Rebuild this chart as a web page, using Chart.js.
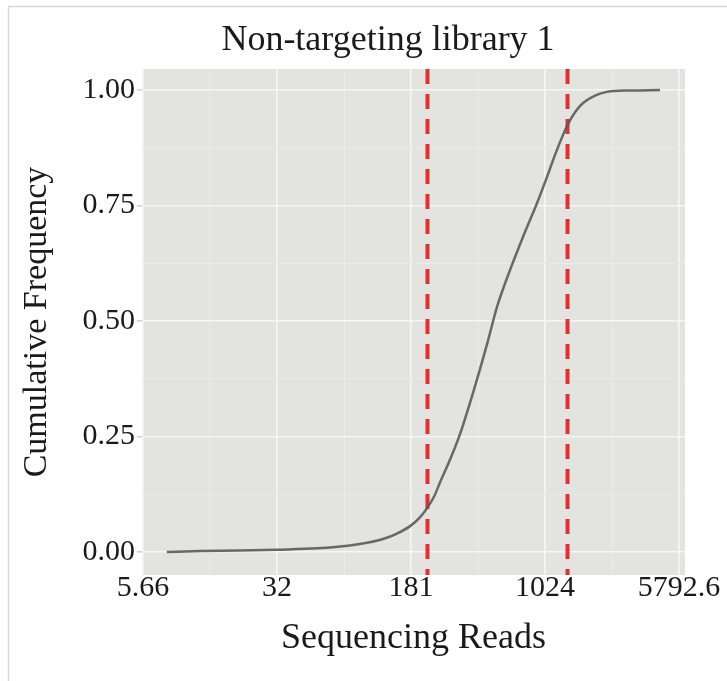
<!DOCTYPE html>
<html>
<head>
<meta charset="utf-8">
<title>Non-targeting library 1</title>
<script src="https://cdn.jsdelivr.net/npm/chart.js@4.4.0/dist/chart.umd.min.js"></script>
<style>
  body { margin: 0; background: #ffffff; }
</style>
</head>
<body>
<canvas id="canvasCdf" width="727" height="681"></canvas>
<script>
var chartTitle = 'Non-targeting library 1';
var xAxisTitle = 'Sequencing Reads';
var yAxisTitle = 'Cumulative Frequency';

// cumulative frequency curve (x on a log2 axis)
var reads   = [7.7, 11.8, 19.8, 32, 54, 82, 106, 126, 151, 179, 203, 223, 244, 263, 300, 341, 404, 484, 550, 651, 770, 923, 1051, 1180, 1361, 1509, 1674, 1955, 2283, 3074, 4531];
var cumFreq = [0, 0.002, 0.003, 0.005, 0.008, 0.014, 0.021, 0.028, 0.040, 0.056, 0.075, 0.095, 0.120, 0.150, 0.200, 0.255, 0.345, 0.450, 0.530, 0.610, 0.682, 0.755, 0.812, 0.865, 0.922, 0.952, 0.972, 0.988, 0.996, 0.999, 1.0];

// red dashed cut-offs
var cutoffReads = [224, 1370];

var xTickValues = [5.657, 32, 181.02, 1024, 5792.6];
var xTickLabels = ['5.66', '32', '181', '1024', '5792.6'];
var xMinorValues = [13.45, 76.11, 430.5, 2435.5];
var yTickValues = [0, 0.25, 0.5, 0.75, 1];
var yMinorValues = [0.125, 0.375, 0.625, 0.875];

var xMin = 5.585, xMax = 6258;
var yMin = -0.0498, yMax = 1.0455;

Chart.defaults.font.family = "'Liberation Serif', 'Times New Roman', serif";
Chart.defaults.color = '#1a1a1a';

var curve = [];
for (var i in reads) {
  curve.push({x: reads[i], y: cumFreq[i]});
}

var datasets = [{
  data: curve,
  showLine: true,
  borderColor: 'rgba(90, 90, 90, 0.9)',
  borderWidth: 2.5,
  pointRadius: 0,
  cubicInterpolationMode: 'monotone'
}];
for (var j in cutoffReads) {
  datasets.push({
    data: [{x: cutoffReads[j], y: yMax}, {x: cutoffReads[j], y: yMin}],
    showLine: true,
    borderColor: '#e0302f',
    borderWidth: 4,
    borderDash: [15, 10],
    pointRadius: 0
  });
}

function isMinor(list, ctx) {
  return ctx.tick && list.indexOf(ctx.tick.value) >= 0;
}

var panelPlugin = {
  id: 'panel',
  beforeDraw: function(chart) {
    var ctx = chart.ctx, a = chart.chartArea;
    ctx.save();
    ctx.strokeStyle = '#d8d8d8';
    ctx.lineWidth = 1.5;
    ctx.beginPath();
    ctx.moveTo(8.5, 681);
    ctx.lineTo(8.5, 6.5);
    ctx.lineTo(727, 6.5);
    ctx.stroke();
    ctx.fillStyle = '#e3e3df';
    ctx.fillRect(a.left, a.top, a.right - a.left, a.bottom - a.top);
    ctx.restore();
  },
  afterDraw: function(chart) {
    var ctx = chart.ctx;
    ctx.save();
    ctx.font = "36px 'Liberation Serif', 'Times New Roman', serif";
    ctx.fillStyle = '#1a1a1a';
    ctx.textAlign = 'center';
    ctx.textBaseline = 'middle';
    ctx.fillText(chartTitle, 388, 41);
    ctx.restore();
  }
};

var ctx = document.getElementById('canvasCdf');
var cdfChart = new Chart(ctx, {
  type: 'scatter',
  data: { datasets: datasets },
  plugins: [panelPlugin],
  options: {
    responsive: false,
    devicePixelRatio: 1,
    animation: false,
    layout: { padding: { left: 10, right: 42, top: 69, bottom: 0 } },
    plugins: {
      legend: { display: false },
      tooltip: { enabled: false }
    },
    scales: {
      x: {
        type: 'logarithmic',
        min: xMin,
        max: xMax,
        bounds: 'data',
        afterBuildTicks: function(scale) {
          scale.ticks = xTickValues.concat(xMinorValues).map(function(v) { return {value: v}; });
        },
        afterFit: function(scale) {
          scale.height = 106;
          scale.paddingLeft = 0;
          scale.paddingRight = 0;
        },
        border: { display: false },
        grid: {
          drawTicks: false,
          color: function(c) { return isMinor(xMinorValues, c) ? '#ebebe8' : '#f6f6f6'; },
          lineWidth: function(c) { return isMinor(xMinorValues, c) ? 1 : 1.6; }
        },
        ticks: {
          autoSkip: false,
          maxRotation: 0,
          minRotation: 0,
          padding: -5,
          font: { size: 30 },
          callback: function(value) {
            var k = xTickValues.indexOf(value);
            return k >= 0 ? xTickLabels[k] : '';
          }
        },
        title: {
          display: true,
          text: xAxisTitle,
          font: { size: 36 },
          padding: { top: 0, bottom: 21 }
        }
      },
      y: {
        min: yMin,
        max: yMax,
        afterBuildTicks: function(scale) {
          scale.ticks = yTickValues.concat(yMinorValues).map(function(v) { return {value: v}; });
        },
        afterFit: function(scale) {
          scale.width = 132;
        },
        border: { display: false },
        grid: {
          tickLength: 5,
          tickWidth: 1.5,
          tickColor: function(c) { return isMinor(yMinorValues, c) ? 'rgba(0,0,0,0)' : '#cfcfcf'; },
          color: function(c) { return isMinor(yMinorValues, c) ? '#ebebe8' : '#f6f6f6'; },
          lineWidth: function(c) { return isMinor(yMinorValues, c) ? 1 : 1.6; }
        },
        ticks: {
          padding: 2,
          font: { size: 30 },
          callback: function(value) {
            return yTickValues.indexOf(value) >= 0 ? value.toFixed(2) : '';
          }
        },
        title: {
          display: true,
          text: yAxisTitle,
          font: { size: 34 },
          padding: { top: 7, bottom: 0 }
        }
      }
    }
  }
});
</script>
</body>
</html>
